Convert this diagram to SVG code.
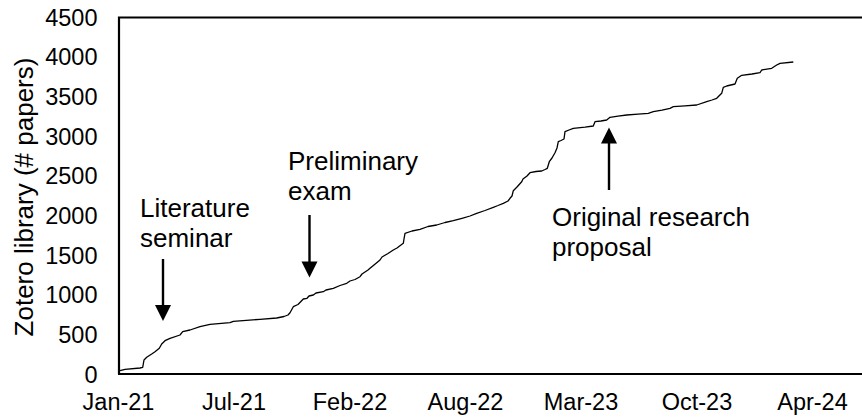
<svg xmlns="http://www.w3.org/2000/svg" width="862" height="418" viewBox="0 0 862 418">
<style>
text{font-family:"Liberation Sans",Arial,sans-serif;fill:#000}
.tick{font-size:23.5px}
.ytick{text-anchor:end}
.xtick{text-anchor:middle}
.ann{font-size:26px}
.ylab{font-size:26px;text-anchor:middle}
.axis{stroke:#000;stroke-width:2.2;fill:none}
.curve{stroke:#000;stroke-width:1.3;fill:none;stroke-linejoin:round}
.arrow{stroke:#000;stroke-width:2.4;fill:none}
.head{fill:#000}
</style>
<rect width="862" height="418" fill="#fff"/>
<g id="axes">
<path class="axis" d="M119 17.5H862M119 16.5V374M118 374H862"/>
<g class="tick ytick">
<text x="97.5" y="25.6">4500</text>
<text x="97.5" y="65.2">4000</text>
<text x="97.5" y="104.9">3500</text>
<text x="97.5" y="144.6">3000</text>
<text x="97.5" y="184.2">2500</text>
<text x="97.5" y="223.9">2000</text>
<text x="97.5" y="263.6">1500</text>
<text x="97.5" y="303.2">1000</text>
<text x="97.5" y="342.9">500</text>
<text x="97.5" y="382.6">0</text>
</g>
<g class="tick xtick">
<text x="118.5" y="409.5">Jan-21</text>
<text x="234" y="409.5">Jul-21</text>
<text x="350" y="409.5">Feb-22</text>
<text x="465.5" y="409.5">Aug-22</text>
<text x="581" y="409.5">Mar-23</text>
<text x="697" y="409.5">Oct-23</text>
<text x="812.5" y="409.5">Apr-24</text>
</g>
<text class="ylab" transform="translate(33,197) rotate(-90)">Zotero library (# papers)</text>
</g>
<g id="series">
<path class="curve" d="M120 370.7L125 369.3L140 368L142.7 367.3L144 360L146.7 357.3L151.7 354L155 351.7L159.3 348.3L161.7 344L165 340.7L170 338.3L180 335L182.7 331.7L190 330L200 326.7L210 324.3L230 322.7L233.3 321.3L260 319.3L276.7 318L284 316.5L288 315L290 312.7L293.3 306.7L298 304.5L303.3 299L307 298.3L309 296L313.3 295L316 293L323.3 291.7L326 290L333.3 288.3L340 285.5L346.7 283.3L350 281L355 279.5L360 276.7L362 274L368 270L370 268.3L374 265L380 260L382 257L388 253.5L393.3 250L397 248L403.3 243.3L404 239L405 233.3L412 231L420 229.3L428 226.5L436.7 225L445 222.5L453.3 220.7L462 218.3L470 216L476.7 213.3L485 210.5L493.3 207.3L498 205.5L503.3 203.3L508 201L510 198.3L512 196L513.3 190.7L517 187L521.7 181.7L523 179L527 176L530 172.7L536 171.5L541.7 171L545 169.5L547.3 168.3L549.3 161.7L552 158L555 152.7L557 148L558.3 141.7L561 140.5L564 139L565 131.7L569 130L573.3 128.3L585 127.2L593.3 126L595 121.7L601 121L606.7 120L610 117.3L618 116.2L626.7 115L638 114.2L648.3 113.3L653.3 111.7L662 110.2L670 108.3L673.3 106.7L685 105.8L696.7 105L706.7 101.7L712 100L716.7 98.3L721.7 93.3L723.3 87.3L726.7 86L735 84L737.3 78.3L741.7 75.3L752 74L760 72.7L761.7 70L771.7 68.3L776.7 65L780 63.3L793.3 62"/>
</g>
<g id="connectors">
<path class="arrow" d="M163 259V306"/>
<path class="head" d="M155 305H171L163 321Z"/>
<path class="arrow" d="M309.5 215V263"/>
<path class="head" d="M301.5 261.5H317.5L309.5 277.5Z"/>
<path class="arrow" d="M609 190V142"/>
<path class="head" d="M601 143.5H617L609 127.5Z"/>
</g>
<g id="label-literature" class="ann">
<text x="140" y="217">Literature</text>
<text x="140" y="247">seminar</text>
</g>
<g id="label-prelim" class="ann">
<text x="288" y="170">Preliminary</text>
<text x="288" y="200">exam</text>
</g>
<g id="label-original" class="ann">
<text x="552" y="226">Original research</text>
<text x="552" y="256">proposal</text>
</g>
</svg>
